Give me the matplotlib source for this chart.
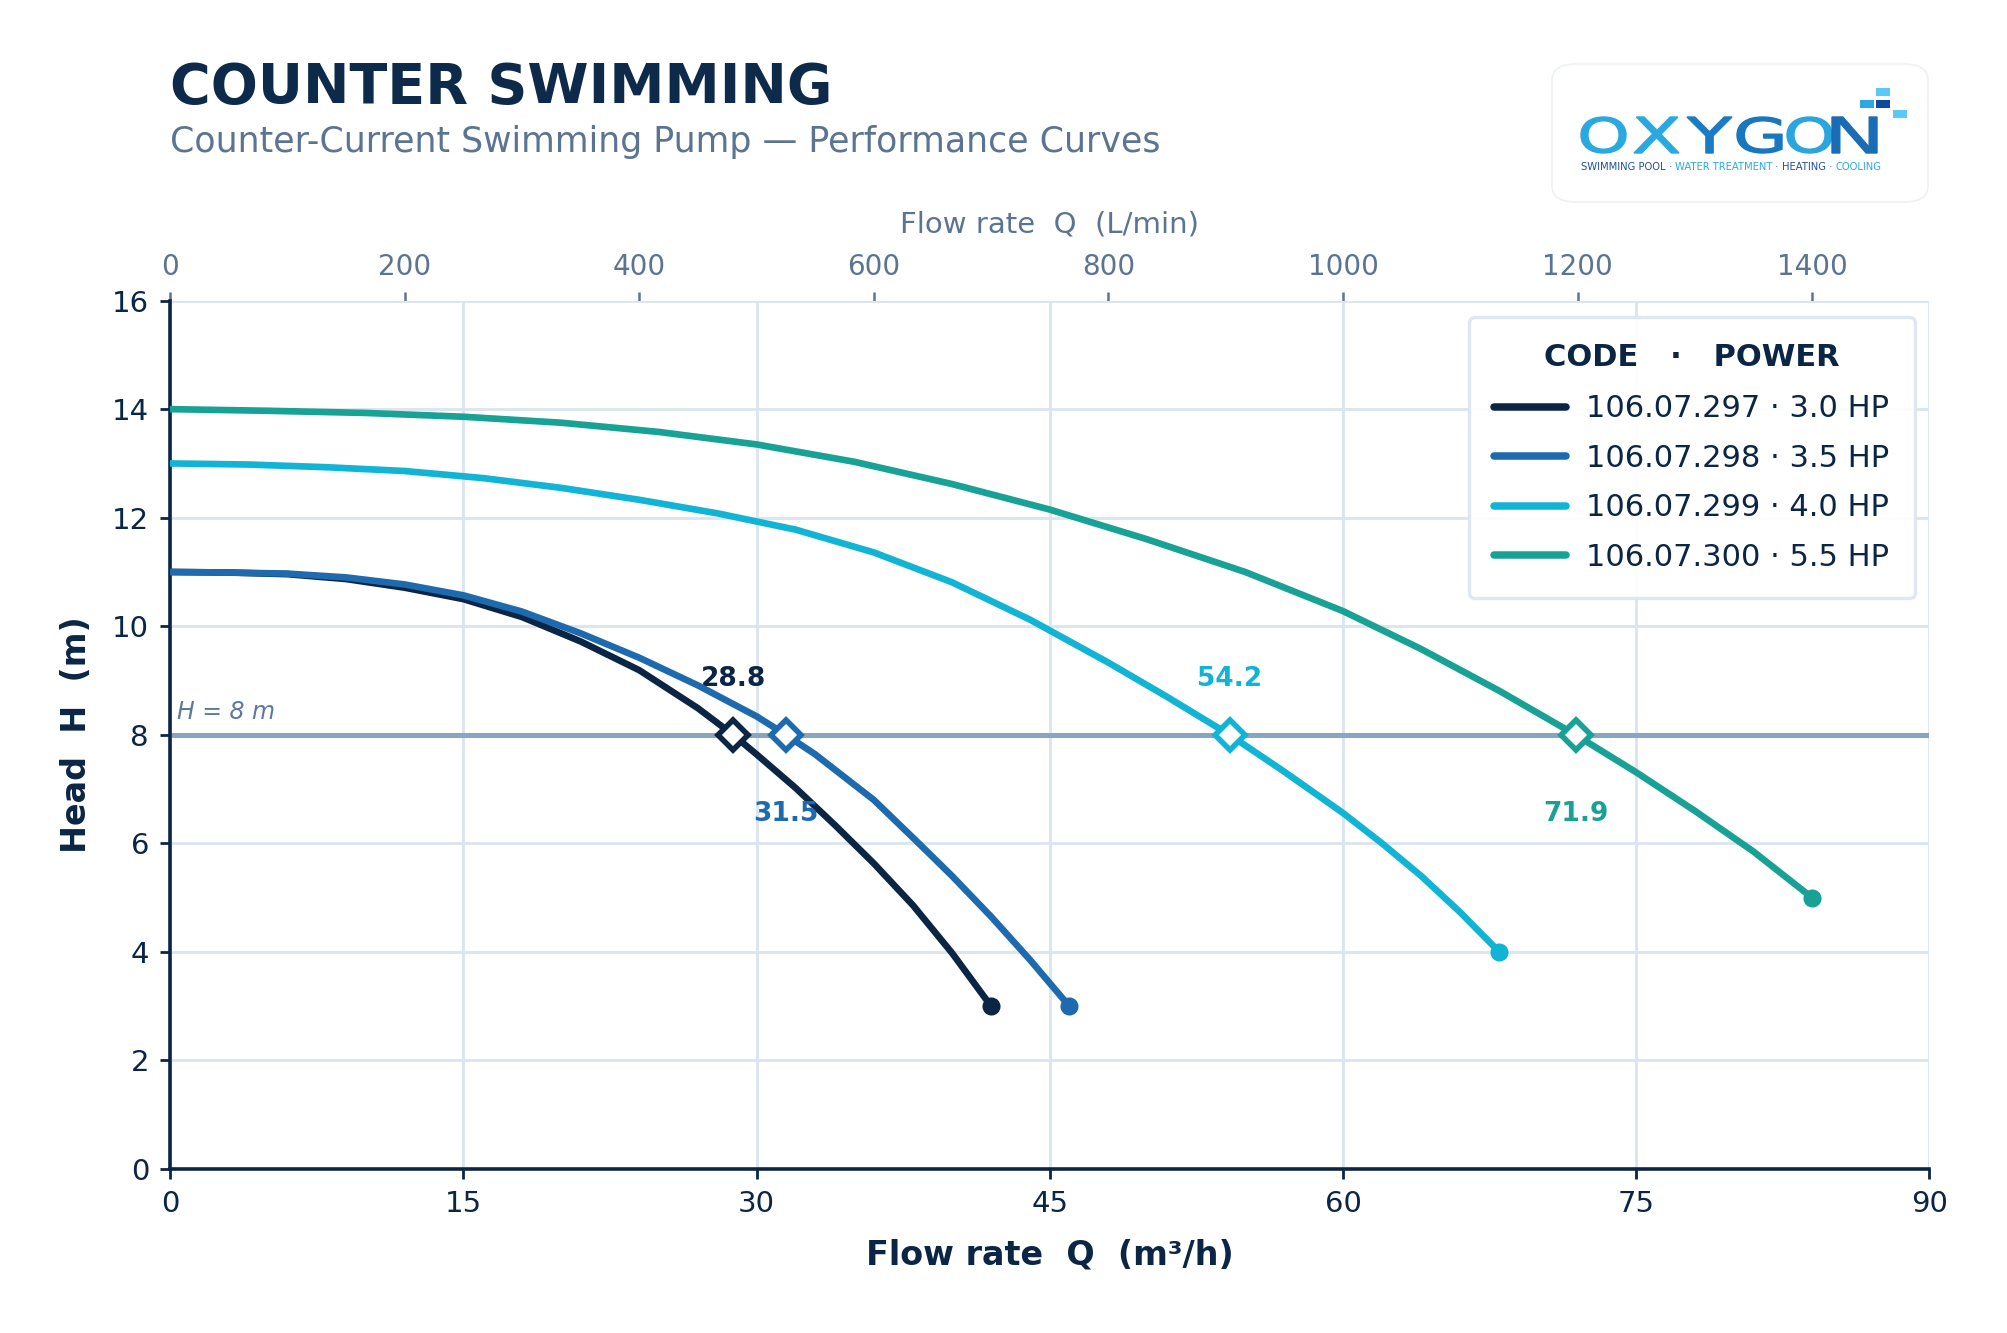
import matplotlib
matplotlib.use("Agg")
import matplotlib.pyplot as plt
from matplotlib.patches import FancyBboxPatch, Rectangle, PathPatch
from matplotlib.textpath import TextPath
from matplotlib.font_manager import FontProperties
from matplotlib.transforms import Affine2D

plt.rcParams['font.family'] = ['DejaVu Sans']

# ---- data ----
codes = ["106.07.297", "106.07.298", "106.07.299", "106.07.300"]
powers = ["3.0 HP", "3.5 HP", "4.0 HP", "5.5 HP"]
colors = ["#0b2545", "#1d6aae", "#12b4d6", "#17a295"]

q_297 = [0, 3, 6, 9, 12, 15, 18, 21, 24, 27, 28.8, 30, 32, 34, 36, 38, 40, 42]
h_297 = [11.0, 10.99, 10.96, 10.87, 10.71, 10.50, 10.17, 9.72, 9.19, 8.49, 8.0,
         7.64, 7.02, 6.34, 5.63, 4.86, 3.98, 3.0]

q_298 = [0, 3, 6, 9, 12, 15, 18, 21, 24, 27, 30, 31.5, 33, 36, 38.3, 40, 42, 44, 46]
h_298 = [11.0, 10.99, 10.97, 10.90, 10.77, 10.57, 10.27, 9.87, 9.42, 8.91, 8.34,
         8.0, 7.64, 6.80, 6.0, 5.40, 4.65, 3.85, 3.0]

q_299 = [0, 4, 8, 12, 16, 20, 24, 28, 32, 36, 40, 44, 48, 51, 54.2, 57, 60, 62, 64, 66, 68]
h_299 = [13.0, 12.98, 12.93, 12.86, 12.73, 12.55, 12.33, 12.08, 11.78, 11.36, 10.81,
         10.12, 9.33, 8.70, 8.0, 7.32, 6.56, 6.0, 5.40, 4.73, 4.0]

q_300 = [0, 5, 10, 15, 20, 25, 30, 35, 40, 45, 50, 55, 60, 64, 68, 71.9, 75, 78, 81, 84]
h_300 = [14.0, 13.97, 13.93, 13.86, 13.75, 13.58, 13.35, 13.03, 12.62, 12.15, 11.60,
         11.0, 10.28, 9.58, 8.81, 8.0, 7.31, 6.6, 5.85, 5.0]

curves_q = [q_297, q_298, q_299, q_300]
curves_h = [h_297, h_298, h_299, h_300]

h_ref = 8
q_at_ref = [28.8, 31.5, 54.2, 71.9]
label_above = [True, False, True, False]

x_ticks = [0, 15, 30, 45, 60, 75, 90]
y_ticks = [0, 2, 4, 6, 8, 10, 12, 14, 16]
top_ticks = [0, 200, 400, 600, 800, 1000, 1200, 1400]

NAVY = "#0b2545"
GREY = "#5b7491"
GRID = "#dbe5ef"

fig = plt.figure(figsize=(2007 / 200, 1333 / 200), dpi=200)
ax = fig.add_axes([0.0848, 0.1230, 0.8765, 0.6515])

ax.set_xlim(0, 90)
ax.set_ylim(0, 16)
ax.set_xticks(x_ticks)
ax.set_yticks(y_ticks)
ax.grid(True, color=GRID, lw=1.0, zorder=0)
ax.set_axisbelow(True)

for s in ["top", "right"]:
    ax.spines[s].set_visible(False)
for s in ["left", "bottom"]:
    ax.spines[s].set_color(NAVY)
    ax.spines[s].set_linewidth(1.3)
ax.tick_params(colors=NAVY, labelsize=10.5, length=3.6, width=1.0, pad=4)

# reference head line
ax.axhline(h_ref, color="#8aa5be", lw=1.8, zorder=1.5)
ax.text(0.35, h_ref + 0.2, "H = 8 m", style="italic", fontsize=8.5,
        color="#60799a", va="bottom", ha="left")

for i in range(4):
    ax.plot(curves_q[i], curves_h[i], color=colors[i], lw=2.4,
            solid_capstyle="round", solid_joinstyle="round", zorder=3,
            label=f"{codes[i]} · {powers[i]}")
    ax.plot(curves_q[i][-1], curves_h[i][-1], "o", color=colors[i], ms=5.5, zorder=4)
    ax.plot(q_at_ref[i], h_ref, "D", ms=7.5, mfc="white", mec=colors[i], mew=2.0, zorder=5)
    dy = 20 if label_above[i] else -28.5
    ax.annotate(f"{q_at_ref[i]:.1f}", (q_at_ref[i], h_ref), xytext=(0, dy),
                textcoords="offset points", ha="center", va="center",
                fontsize=9.5, fontweight="bold", color=colors[i])

ax.set_xlabel("Flow rate  Q  (m³/h)", fontsize=12, fontweight="bold", color=NAVY, labelpad=7.5)
ax.set_ylabel("Head  H  (m)", fontsize=12, fontweight="bold", color=NAVY, labelpad=7)

# top axis in L/min
top = ax.secondary_xaxis("top", functions=(lambda q: q * 1000 / 60, lambda l: l * 60 / 1000))
top.set_xticks(top_ticks)
top.spines["top"].set_visible(False)
top.tick_params(colors=GREY, labelsize=10, length=3.2, width=0.9, pad=3.7)
top.set_xlabel("Flow rate  Q  (L/min)", fontsize=10.5, color=GREY, labelpad=7.7)

leg = ax.legend(loc="upper right", bbox_to_anchor=(0.992, 0.981), borderaxespad=0,
                title="CODE   ·   POWER", fontsize=11, frameon=True, fancybox=True,
                handlelength=2.35, handletextpad=0.65, labelspacing=0.67,
                borderpad=0.85, framealpha=0.92)
leg.get_title().set_fontweight("bold")
leg.get_title().set_fontsize(11)
leg.get_title().set_color(NAVY)
leg.get_frame().set_edgecolor("#dde6f0")
leg.get_frame().set_linewidth(1.2)
for t in leg.get_texts():
    t.set_color(NAVY)
for l in leg.get_lines():
    l.set_linewidth(2.7)
leg._legend_box.sep = 8

# titles
fig.text(0.0847, 0.9227, "COUNTER SWIMMING", fontsize=20, fontweight="bold",
         color="#0d2a4a", va="baseline")
fig.text(0.0847, 0.8860, "Counter-Current Swimming Pump — Performance Curves",
         fontsize=12.5, color=GREY, va="baseline")

# logo
W, H = 2007, 1333
fig.add_artist(FancyBboxPatch((1552 / W, 1 - 202 / H), 376 / W, 138 / H,
                              boxstyle="round,pad=0,rounding_size=0.012",
                              transform=fig.transFigure, fc="white",
                              ec="#eef1f4", lw=0.6))
letters = "OXYGON"
letter_cols = ["#2aa9e0", "#2aa9e0", "#1b7cc1", "#1877bd", "#2aa5dd", "#1a6cb4"]
letter_x = [1581, 1634, 1687, 1737, 1787, 1832]
fp = FontProperties(family="DejaVu Sans")
for ch, c, x0 in zip(letters, letter_cols, letter_x):
    tp = TextPath((0, 0), ch, size=1, prop=fp)
    ext = tp.get_extents()
    sx = 45 / ext.width / W
    sy = 36 / ext.height / H
    tr = Affine2D().translate(-ext.x0, -ext.y0).scale(sx, sy).translate(x0 / W, 1 - 153 / H)
    fig.add_artist(PathPatch(tr.transform_path(tp), transform=fig.transFigure,
                             fc=c, ec=c, lw=0.5))

tag_parts = [("SWIMMING POOL", "#1f4f9e"), (" · ", "#1f4f9e"),
             ("WATER TREATMENT", "#2aa9e0"), (" · ", "#1f4f9e"),
             ("HEATING", "#1f4f9e"), (" · ", "#1f4f9e"),
             ("COOLING", "#2aa9e0")]
renderer = fig.canvas.get_renderer()
tag_size = 3.4
total = 0
for s, c in tag_parts:
    t = fig.text(0, 0, s, fontsize=tag_size)
    total += t.get_window_extent(renderer).width
    t.remove()
tag_size = tag_size * 297 / total
xpos = 1581
for s, c in tag_parts:
    t = fig.text(xpos / W, 1 - 170 / H, s, fontsize=tag_size, color=c, va="baseline")
    xpos += t.get_window_extent(renderer).width

squares = [(1860, 100, "#29abe2"), (1876, 100, "#0d4aa0"), (1876, 88, "#5bc8f5"),
           (1893, 110, "#5bc8f5")]
for x0, y0, c in squares:
    fig.add_artist(Rectangle((x0 / W, 1 - (y0 + 8) / H), 14 / W, 8 / H,
                             transform=fig.transFigure, fc=c, ec="none"))

fig.savefig("out.png", dpi=200, facecolor="white")
